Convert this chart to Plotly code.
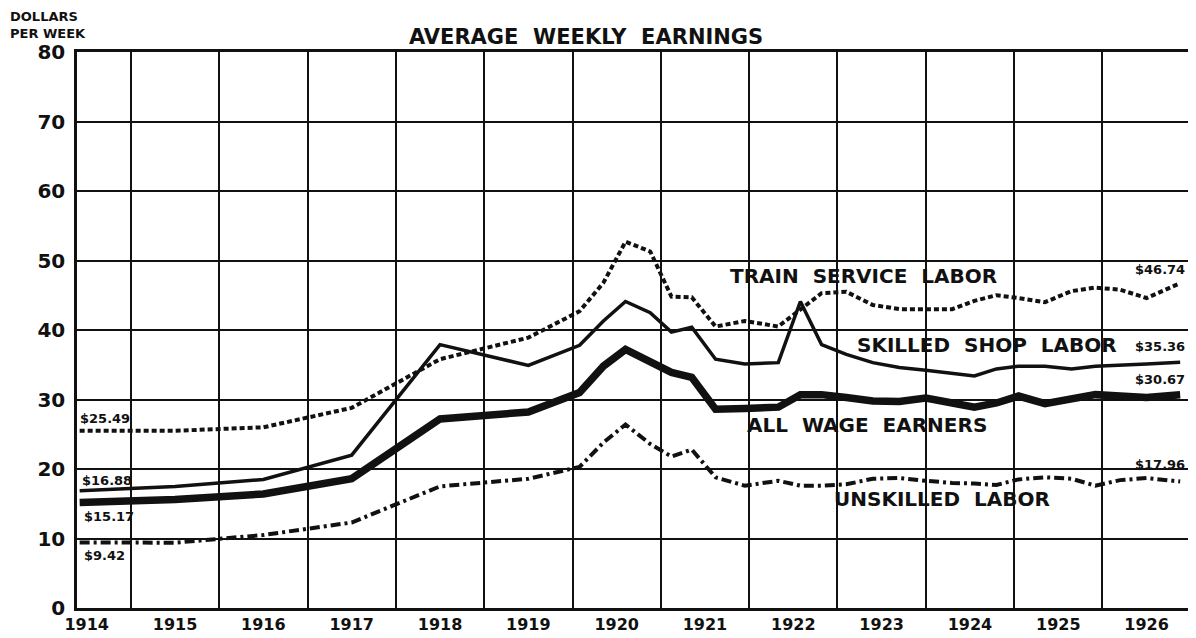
import plotly.graph_objects as go

# time points (decimal years)
years = [1914.42, 1915.5, 1916.5, 1917.5, 1918.5, 1919.5, 1920.08, 1920.35, 1920.6, 1920.88,
         1921.12, 1921.35, 1921.62, 1921.95, 1922.33, 1922.58, 1922.82, 1923.1, 1923.4, 1923.7,
         1924.0, 1924.3, 1924.55, 1924.8, 1925.05, 1925.35, 1925.65, 1925.92, 1926.2, 1926.5, 1926.88]

train_service = [25.49, 25.5, 26.0, 28.8, 35.8, 38.9, 42.7, 46.8, 52.7, 51.3,
                 44.8, 44.7, 40.5, 41.3, 40.5, 43.0, 45.3, 45.5, 43.6, 43.0,
                 43.0, 43.0, 44.2, 45.0, 44.6, 44.0, 45.6, 46.1, 45.8, 44.6, 46.74]
skilled_shop = [16.88, 17.5, 18.5, 22.0, 37.9, 34.9, 37.8, 41.3, 44.1, 42.5,
                39.7, 40.4, 35.8, 35.1, 35.3, 44.1, 37.9, 36.5, 35.3, 34.6,
                34.2, 33.8, 33.4, 34.4, 34.8, 34.8, 34.4, 34.8, 34.9, 35.1, 35.36]
all_wage = [15.17, 15.6, 16.4, 18.6, 27.2, 28.2, 31.0, 34.8, 37.2, 35.5,
            33.9, 33.2, 28.6, 28.7, 28.9, 30.7, 30.7, 30.3, 29.8, 29.7,
            30.2, 29.5, 28.9, 29.5, 30.5, 29.4, 30.2, 30.7, 30.5, 30.3, 30.67]
unskilled = [9.42, 9.4, 10.5, 12.3, 17.5, 18.6, 20.3, 23.8, 26.4, 23.6,
             21.8, 22.8, 18.8, 17.6, 18.3, 17.6, 17.6, 17.8, 18.6, 18.7,
             18.3, 18.0, 17.9, 17.7, 18.5, 18.8, 18.6, 17.6, 18.4, 18.7, 18.2]

year_labels = ["1914", "1915", "1916", "1917", "1918", "1919", "1920",
               "1921", "1922", "1923", "1924", "1925", "1926"]
year_label_pos = [1914.5 + i for i in range(len(year_labels))]
y_ticks = [0, 10, 20, 30, 40, 50, 60, 70, 80]

FONT = "DejaVu Sans"
BLK = "#111111"

fig = go.Figure()
fig.add_trace(go.Scatter(x=years, y=train_service, mode="lines", name="Train service labor",
                         line=dict(color=BLK, width=4, dash="5px,3px")))
fig.add_trace(go.Scatter(x=years, y=skilled_shop, mode="lines", name="Skilled shop labor",
                         line=dict(color=BLK, width=3.5)))
fig.add_trace(go.Scatter(x=years, y=all_wage, mode="lines", name="All wage earners",
                         line=dict(color=BLK, width=7.5)))
fig.add_trace(go.Scatter(x=years, y=unskilled, mode="lines", name="Unskilled labor",
                         line=dict(color=BLK, width=4, dash="10px,4px,3px,4px")))

fig.update_layout(
    width=1188, height=630,
    margin=dict(l=69, r=4, t=44, b=29),
    paper_bgcolor="white", plot_bgcolor="white",
    showlegend=False,
    font=dict(family=FONT, color=BLK),
)
fig.update_xaxes(
    range=[1914.39, 1926.98],
    tickvals=year_label_pos, ticktext=year_labels,
    tickfont=dict(family=FONT, size=16, weight="bold", color=BLK),
    ticks="", showgrid=False, zeroline=False,
    showline=True, linecolor=BLK, linewidth=2.5, mirror=True,
    minor=dict(tick0=1915, dtick=1, showgrid=True, gridcolor=BLK, gridwidth=1.6, ticks=""),
)
fig.update_yaxes(
    range=[0, 80], tickvals=y_ticks,
    tickfont=dict(family=FONT, size=20, weight="bold", color=BLK),
    ticks="", showgrid=True, gridcolor=BLK, gridwidth=1.6, zeroline=False,
    showline=True, linecolor=BLK, linewidth=2.5, mirror=True,
    ticklabelstandoff=5,
)

NB = "\u00a0"
def spaced(s):
    return s.replace(" ", NB * 2)

annots = [
    dict(x=1923.30, y=47.7, text=spaced("TRAIN SERVICE LABOR"), size=20, xanchor="center"),
    dict(x=1924.69, y=37.9, text=spaced("SKILLED SHOP LABOR"), size=20, xanchor="center"),
    dict(x=1923.33, y=26.4, text=spaced("ALL WAGE EARNERS"), size=20, xanchor="center"),
    dict(x=1924.18, y=15.7, text=spaced("UNSKILLED LABOR"), size=20, xanchor="center"),
    dict(x=1914.40, y=27.3, text="$25.49", size=13, xanchor="left"),
    dict(x=1914.42, y=18.4, text="$16.88", size=13, xanchor="left"),
    dict(x=1914.45, y=13.2, text="$15.17", size=13, xanchor="left"),
    dict(x=1914.45, y=7.5, text="$9.42", size=13, xanchor="left"),
    dict(x=1926.96, y=48.7, text="$46.74", size=13, xanchor="right"),
    dict(x=1926.96, y=37.6, text="$35.36", size=13, xanchor="right"),
    dict(x=1926.96, y=32.9, text="$30.67", size=13, xanchor="right"),
    dict(x=1926.96, y=20.7, text="$17.96", size=13, xanchor="right"),
]
for a in annots:
    fig.add_annotation(x=a["x"], y=a["y"], xref="x", yref="y", text=a["text"],
                       showarrow=False, xanchor=a["xanchor"], yanchor="middle",
                       font=dict(family=FONT, size=a["size"], weight="bold", color=BLK),
                       bgcolor="rgba(0,0,0,0)")

# title (paper coordinates)
fig.add_annotation(x=0.458, y=1.027, xref="paper", yref="paper",
                   text=spaced("AVERAGE WEEKLY EARNINGS"), showarrow=False,
                   xanchor="center", yanchor="middle",
                   font=dict(family=FONT, size=21, weight="bold", color=BLK))

fig.add_annotation(x=-0.062, y=1.0, xref="paper", yref="paper", yshift=45,
                   text="DOLLARS<br>PER WEEK", showarrow=False, xanchor="left", yanchor="top",
                   align="left",
                   font=dict(family=FONT, size=13, weight="bold", color=BLK))

fig.write_html("out.html")
